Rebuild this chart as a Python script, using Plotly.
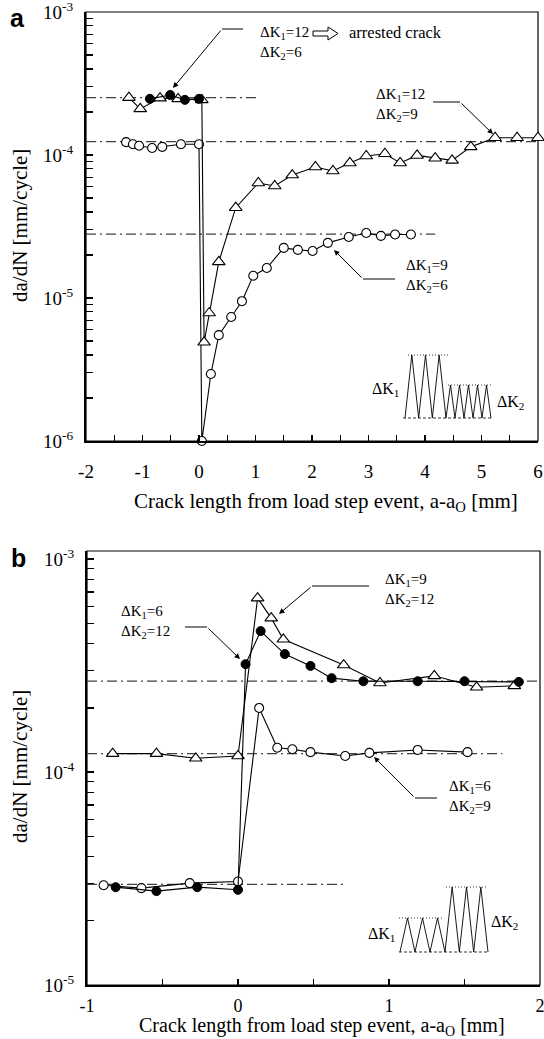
import plotly.graph_objects as go

W, H = 544, 1039
SERIF = "Liberation Serif, Times New Roman, Tinos, serif"

# ---------------- Panel a data ----------------
a_tri_x = [-1.24, -1.04, -0.69, -0.37, 0.05, 0.09, 0.18, 0.35, 0.65, 1.05, 1.34, 1.65, 2.06, 2.37,
           2.67, 2.96, 3.29, 3.56, 3.86, 4.18, 4.48, 4.81, 5.24, 5.63, 6.00]
a_tri_y = [2.52e-4, 2.10e-4, 2.50e-4, 2.47e-4, 2.43e-4, 4.9e-6, 7.85e-6, 1.79e-5, 4.28e-5, 6.37e-5,
           6.07e-5, 7.24e-5, 8.24e-5, 7.73e-5, 8.8e-5, 9.84e-5, 1.02e-4, 8.8e-5, 9.93e-5, 9.5e-5,
           9.17e-5, 1.14e-4, 1.32e-4, 1.32e-4, 1.32e-4]
a_fill_x = [-0.87, -0.51, -0.25, 0.0]
a_fill_y = [2.47e-4, 2.63e-4, 2.43e-4, 2.47e-4]
a_open_x = [-1.29, -1.17, -1.06, -0.83, -0.65, -0.32, 0.0, 0.05, 0.21, 0.35, 0.57, 0.76, 0.96, 1.20,
            1.50, 1.75, 2.01, 2.28, 2.65, 2.96, 3.22, 3.47, 3.75]
a_open_y = [1.23e-4, 1.19e-4, 1.16e-4, 1.12e-4, 1.14e-4, 1.19e-4, 1.19e-4, 1.0e-6, 2.94e-6, 5.5e-6,
            7.36e-6, 9.5e-6, 1.43e-5, 1.62e-5, 2.24e-5, 2.17e-5, 2.13e-5, 2.43e-5, 2.67e-5, 2.85e-5,
            2.72e-5, 2.78e-5, 2.78e-5]
a_ref_levels = [2.52e-4, 1.24e-4, 2.8e-5]
a_ref_x0 = [-2, -2, -2]
a_ref_x1 = [1.05, 6.0, 4.18]

# ---------------- Panel b data ----------------
b_tri_x = [-0.83, -0.54, -0.28, 0.0, 0.13, 0.22, 0.30, 0.70, 0.94, 1.30, 1.58, 1.83]
b_tri_y = [1.22e-4, 1.22e-4, 1.16e-4, 1.19e-4, 6.56e-4, 5.28e-4, 4.2e-4, 3.18e-4, 2.62e-4, 2.83e-4,
           2.5e-4, 2.54e-4]
b_fill_x = [-0.81, -0.54, -0.27, 0.0, 0.05, 0.15, 0.31, 0.48, 0.62, 0.83, 1.19, 1.50, 1.86]
b_fill_y = [2.88e-5, 2.76e-5, 2.88e-5, 2.8e-5, 3.21e-4, 4.59e-4, 3.58e-4, 3.15e-4, 2.76e-4, 2.67e-4,
            2.67e-4, 2.67e-4, 2.65e-4]
b_open_x = [-0.89, -0.64, -0.32, 0.0, 0.14, 0.26, 0.36, 0.48, 0.71, 0.87, 1.19, 1.52]
b_open_y = [2.94e-5, 2.85e-5, 3.01e-5, 3.06e-5, 2.0e-4, 1.30e-4, 1.28e-4, 1.24e-4, 1.19e-4, 1.23e-4,
            1.27e-4, 1.24e-4]
b_ref_levels = [2.67e-4, 1.22e-4, 2.97e-5]
b_ref_x0 = [-1, -1, -1]
b_ref_x1 = [2.0, 1.75, 0.71]

# tick labels
a_xticks = [-2, -1, 0, 1, 2, 3, 4, 5, 6]
b_xticks = [-1, 0, 1, 2]
a_yticks = [1e-6, 1e-5, 1e-4, 1e-3]
b_yticks = [1e-5, 1e-4, 1e-3]
ytick_text = {1e-6: "10<sup>-6</sup>", 1e-5: "10<sup>-5</sup>", 1e-4: "10<sup>-4</sup>", 1e-3: "10<sup>-3</sup>"}

XTITLE = "Crack length from load step event, a-a<sub>O</sub> [mm]"
YTITLE = "da/dN [mm/cycle]"


def P(px, py):
    return px / W, 1 - py / H


fig = go.Figure()

LINE = dict(color="black", width=1.1)
OPEN_C = dict(symbol="circle", size=9, color="white", line=dict(color="black", width=1.1))
FILL_C = dict(symbol="circle", size=9, color="black", line=dict(color="black", width=1))
TRI = dict(symbol="triangle-up", size=11, color="white", line=dict(color="black", width=1.1))
DASHREF = dict(color="#404040", width=1.2, dash="10px,4px,2px,4px")

for lv, x0, x1 in zip(a_ref_levels, a_ref_x0, a_ref_x1):
    fig.add_trace(go.Scatter(x=[x0, x1], y=[lv, lv], mode="lines", line=DASHREF,
                             xaxis="x", yaxis="y", showlegend=False, hoverinfo="skip"))
for lv, x0, x1 in zip(b_ref_levels, b_ref_x0, b_ref_x1):
    fig.add_trace(go.Scatter(x=[x0, x1], y=[lv, lv], mode="lines", line=DASHREF,
                             xaxis="x2", yaxis="y2", showlegend=False, hoverinfo="skip"))

fig.add_trace(go.Scatter(x=a_open_x, y=a_open_y, mode="lines+markers", line=LINE, marker=OPEN_C,
                         xaxis="x", yaxis="y", showlegend=False, cliponaxis=False))
fig.add_trace(go.Scatter(x=a_tri_x, y=a_tri_y, mode="lines+markers", line=LINE, marker=TRI,
                         xaxis="x", yaxis="y", showlegend=False, cliponaxis=False))
fig.add_trace(go.Scatter(x=a_fill_x, y=a_fill_y, mode="lines+markers", line=LINE, marker=FILL_C,
                         xaxis="x", yaxis="y", showlegend=False, cliponaxis=False))
fig.add_trace(go.Scatter(x=b_open_x, y=b_open_y, mode="lines+markers", line=LINE, marker=OPEN_C,
                         xaxis="x2", yaxis="y2", showlegend=False, cliponaxis=False))
fig.add_trace(go.Scatter(x=b_tri_x, y=b_tri_y, mode="lines+markers", line=LINE, marker=TRI,
                         xaxis="x2", yaxis="y2", showlegend=False, cliponaxis=False))
fig.add_trace(go.Scatter(x=b_fill_x, y=b_fill_y, mode="lines+markers", line=LINE, marker=FILL_C,
                         xaxis="x2", yaxis="y2", showlegend=False, cliponaxis=False))


def minor_log(lo, hi):
    vals = []
    for e in range(lo, hi):
        for m in range(2, 10):
            vals.append(m * 10 ** e)
    return vals


def xax(domain, rng, ticks, standoff, fsize):
    return dict(domain=domain, range=rng, tickmode="array", tickvals=ticks,
                ticktext=[str(t) for t in ticks], ticks="inside", ticklen=6, tickwidth=1.2,
                tickcolor="black", minor=dict(dtick=0.5, tick0=0, ticks="inside", ticklen=6,
                                              tickwidth=1.2, tickcolor="black", showgrid=False),
                showline=True, linewidth=2, linecolor="black", showgrid=False, zeroline=False,
                tickfont=dict(family=SERIF, size=fsize, color="black"), ticklabeloverflow="allow",
                ticklabelstandoff=standoff, fixedrange=True, automargin=False)


def yax(domain, rng, ticks, lo, hi, anchor):
    return dict(domain=domain, type="log", range=rng, tickmode="array", tickvals=ticks,
                ticktext=[ytick_text[t] for t in ticks], ticks="inside", ticklen=7, tickwidth=1.2,
                tickcolor="black", minor=dict(tickmode="array", tickvals=minor_log(lo, hi),
                                              ticks="inside", ticklen=7, tickwidth=1.2,
                                              tickcolor="black", showgrid=False),
                showline=True, linewidth=2, linecolor="black", showgrid=False, zeroline=False,
                tickfont=dict(family=SERIF, size=19, color="black"), ticklabelstandoff=7,
                ticklabeloverflow="allow", anchor=anchor, fixedrange=True, automargin=False)


fig.update_layout(
    width=W, height=H, margin=dict(l=0, r=0, t=0, b=0, autoexpand=False), autosize=False,
    paper_bgcolor="white", plot_bgcolor="white",
    font=dict(family=SERIF, color="black", size=16),
    xaxis=xax([86 / W, 538 / W], [-2, 6], a_xticks, 12, 19) | dict(anchor="y"),
    yaxis=yax([1 - 441 / H, 1 - 12 / H], [-6, -3], a_yticks, -6, -3, "x"),
    xaxis2=xax([87 / W, 540 / W], [-1, 2], b_xticks, 3, 18) | dict(anchor="y2"),
    yaxis2=yax([1 - 985 / H, 1 - 551 / H], [-5, -2.962], b_yticks, -5, -3, "x2"),
    showlegend=False,
)

shapes = []
for xr, yr in (("x domain", "y domain"), ("x2 domain", "y2 domain")):
    shapes.append(dict(type="rect", xref=xr, yref=yr, x0=0, x1=1, y0=0, y1=1,
                       line=dict(color="black", width=1.2), layer="below"))

annotations = []


def text_ann(px, py, text, size=15, xanchor="left", family=SERIF):
    x, y = P(px, py)
    annotations.append(dict(x=x, y=y, xref="paper", yref="paper", text=text, showarrow=False,
                            xanchor=xanchor, yanchor="middle", align="left",
                            font=dict(family=family, size=size, color="black")))


def leader(hx0, hx1, hy, tipx, tipy, joint):
    a0 = P(hx0, hy)
    a1 = P(hx1, hy)
    shapes.append(dict(type="line", xref="paper", yref="paper", x0=a0[0], y0=a0[1], x1=a1[0], y1=a1[1],
                       line=dict(color="black", width=1)))
    jx = hx0 if joint == "left" else hx1
    tx, ty = P(tipx, tipy)
    annotations.append(dict(x=tx, y=ty, xref="paper", yref="paper", ax=jx - tipx, ay=hy - tipy,
                            axref="pixel", ayref="pixel", text="", showarrow=True, arrowhead=2,
                            arrowsize=1.1, arrowwidth=1, arrowcolor="black", standoff=0))


for txt, (px, py) in (("<b>a</b>", (17, 18)), ("<b>b</b>", (18, 558))):
    x, y = P(px, py)
    annotations.append(dict(x=x, y=y, xref="paper", yref="paper", text=txt, showarrow=False,
                            xanchor="center", yanchor="middle",
                            font=dict(family="Liberation Sans, Arial, sans-serif", size=25,
                                      color="black")))

for (px, py, fs) in ((326, 502, 21), (322, 1026, 20)):
    x, y = P(px, py)
    annotations.append(dict(x=x, y=y, xref="paper", yref="paper", text=XTITLE, showarrow=False,
                            xanchor="center", yanchor="middle",
                            font=dict(family=SERIF, size=fs, color="black")))
for (px, py) in ((20, 226), (20, 767)):
    x, y = P(px, py)
    annotations.append(dict(x=x, y=y, xref="paper", yref="paper", text=YTITLE, showarrow=False,
                            textangle=-90, xanchor="center", yanchor="middle",
                            font=dict(family=SERIF, size=21, color="black")))

# panel a labels
text_ann(258, 43, "ΔK<sub>1</sub>=12<br>ΔK<sub>2</sub>=6")
leader(222, 243, 29, 173, 88, "left")
text_ann(347, 33, "arrested crack", size=16.5)
ax_pts = [(313, 31), (328, 31), (328, 27), (338, 33.5), (328, 40), (328, 36), (313, 36)]
path = "M " + " L ".join(f"{P(x, y)[0]:.5f},{P(x, y)[1]:.5f}" for x, y in ax_pts) + " Z"
shapes.append(dict(type="path", xref="paper", yref="paper", path=path,
                   line=dict(color="black", width=1), fillcolor="white"))

text_ann(374, 105, "ΔK<sub>1</sub>=12<br>ΔK<sub>2</sub>=9")
leader(433, 460, 102, 493, 134, "right")
text_ann(404, 276, "ΔK<sub>1</sub>=9<br>ΔK<sub>2</sub>=6")
leader(363, 395, 279, 334, 250, "left")

# panel b labels
text_ann(119, 622, "ΔK<sub>1</sub>=6<br>ΔK<sub>2</sub>=12")
leader(185, 207, 627, 240, 659, "right")
text_ann(383, 590, "ΔK<sub>1</sub>=9<br>ΔK<sub>2</sub>=12")
leader(312, 369, 586, 279, 614, "left")
text_ann(447, 797, "ΔK<sub>1</sub>=6<br>ΔK<sub>2</sub>=9")
leader(415, 437, 798, 374, 757, "left")


def zigzag(x0, x1, n, ybot, ytop):
    pts = []
    per = (x1 - x0) / n
    for i in range(n):
        pts.append((x0 + i * per, ybot))
        pts.append((x0 + (i + 0.5) * per, ytop))
    pts.append((x1, ybot))
    return pts


def add_path(pts, width=1, dash=None):
    p = "M " + " L ".join(f"{P(x, y)[0]:.5f},{P(x, y)[1]:.5f}" for x, y in pts)
    ln = dict(color="black", width=width)
    if dash:
        ln["dash"] = dash
    shapes.append(dict(type="path", xref="paper", yref="paper", path=p, line=ln))


inset_a_n = (3, 5)
pa = zigzag(405, 446, inset_a_n[0], 418, 355)
pb = zigzag(446, 491, inset_a_n[1], 418, 385)
add_path(pa + pb[1:], width=0.9)
add_path([(403, 418), (493, 418)], width=0.8, dash="3px,2px")
add_path([(408, 355), (448, 355)], width=0.8, dash="1px,2px")
add_path([(448, 385), (493, 385)], width=0.8, dash="1px,2px")
text_ann(401, 390, "ΔK<sub>1</sub>", size=16, xanchor="right")
text_ann(495, 402, "ΔK<sub>2</sub>", size=16)

inset_b_n = (3, 3)
pa = zigzag(400, 445, inset_b_n[0], 952, 918)
pb = zigzag(445, 488, inset_b_n[1], 952, 887)
add_path(pa + pb[1:], width=0.9)
add_path([(399, 952), (488, 952)], width=0.8, dash="3px,2px")
add_path([(399, 918), (444, 918)], width=0.8, dash="1px,2px")
add_path([(446, 887), (488, 887)], width=0.8, dash="1px,2px")
text_ann(397, 934, "ΔK<sub>1</sub>", size=16, xanchor="right")
text_ann(489, 922, "ΔK<sub>2</sub>", size=16)

fig.update_layout(shapes=shapes, annotations=annotations)
fig.write_html("out.html", config={"displayModeBar": False, "staticPlot": True},
               post_script="document.body.style.margin='0';document.body.style.overflow='hidden';")
